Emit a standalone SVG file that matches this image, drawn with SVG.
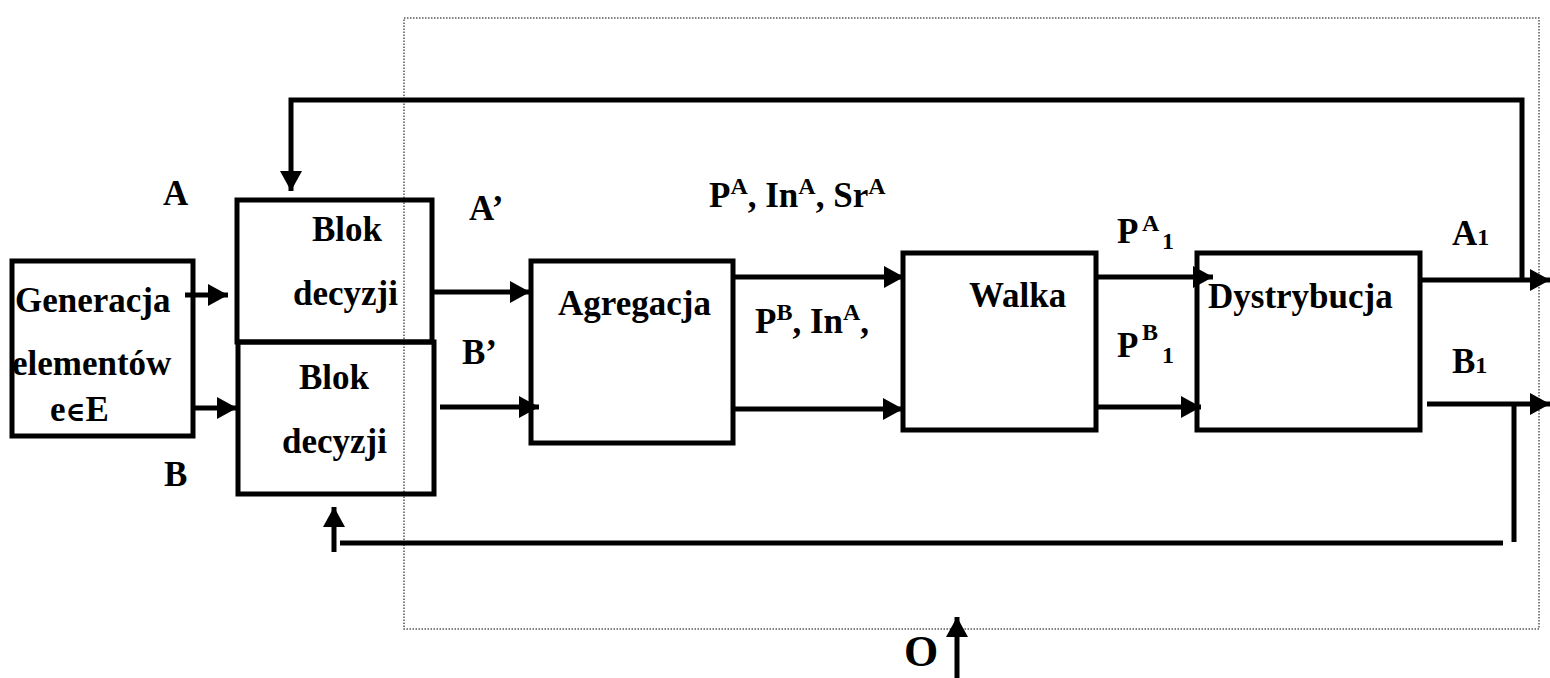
<svg xmlns="http://www.w3.org/2000/svg" width="1550" height="678" viewBox="0 0 1550 678">
<defs>
<style>
.box{fill:none;stroke:#000;stroke-width:5}
.ln{fill:none;stroke:#000;stroke-width:5}
.t{font-family:"Liberation Serif","Times New Roman",serif;font-weight:bold;font-size:35px;fill:#000}
.s{font-size:24px}
.frame{fill:none;stroke:#555;stroke-width:1.5;stroke-dasharray:1.5 1.5}
</style>
<marker id="ah" markerUnits="userSpaceOnUse" markerWidth="20" markerHeight="22" refX="20" refY="11" orient="auto">
<path d="M0,0 L20,11 L0,22 z" fill="#000"/>
</marker>
</defs>
<rect width="1550" height="678" fill="#fff"/>
<rect class="frame" x="404" y="18" width="1135" height="611"/>

<g id="generacja">
<rect class="box" x="12" y="261" width="181" height="175"/>
<text class="t" x="15" y="312">Generacja</text>
<text class="t" x="12" y="375">elementów</text>
<text class="t" x="50" y="421">e<tspan style="font-size:27px;font-family:'DejaVu Serif',serif">∈</tspan>E</text>
</g>
<g id="blok-a">
<rect class="box" x="237" y="200" width="195" height="142"/>
<text class="t" x="312" y="241">Blok</text>
<text class="t" x="293" y="305">decyzji</text>
</g>
<g id="blok-b">
<rect class="box" x="238" y="342" width="196" height="152"/>
<text class="t" x="299" y="389">Blok</text>
<text class="t" x="282" y="453">decyzji</text>
</g>
<g id="agregacja">
<rect class="box" x="531" y="261" width="202" height="182"/>
<text class="t" x="558" y="315">Agregacja</text>
</g>
<g id="walka">
<rect class="box" x="903" y="253" width="193" height="177"/>
<text class="t" x="969" y="307">Walka</text>
</g>
<g id="dystrybucja">
<rect class="box" x="1197" y="253" width="223" height="177"/>
<text class="t" x="1208" y="308">Dystrybucja</text>
</g>

<g id="connectors">
<path class="ln" d="M185,295 H228" marker-end="url(#ah)"/>
<path class="ln" d="M194,408 H237" marker-end="url(#ah)"/>
<path class="ln" d="M432,292 H530" marker-end="url(#ah)"/>
<path class="ln" d="M440,407 H539" marker-end="url(#ah)"/>
<path class="ln" d="M733,277 H904" marker-end="url(#ah)"/>
<path class="ln" d="M733,409 H903" marker-end="url(#ah)"/>
<path class="ln" d="M1096,277 H1213" marker-end="url(#ah)"/>
<path class="ln" d="M1096,407 H1201" marker-end="url(#ah)"/>
<path class="ln" d="M1420,280 H1550" marker-end="url(#ah)"/>
<path class="ln" d="M1427,404 H1550" marker-end="url(#ah)"/>
<path class="ln" d="M1522,280 V100 H291 V191" stroke-width="6" marker-end="url(#ah)"/>
<path class="ln" d="M1514,404 V542"/>
<path class="ln" d="M1503,543 H340"/>
<path class="ln" d="M334,552 V507" marker-end="url(#ah)"/>
<path class="ln" d="M957,678 V617" marker-end="url(#ah)"/>
</g>

<g id="labels">
<text class="t" x="163" y="205">A</text>
<text class="t" x="164" y="486">B</text>
<text class="t" x="469" y="220">A’</text>
<text class="t" x="462" y="364">B’</text>
<text class="t" x="709" y="207">P<tspan class="s" dy="-13">A</tspan><tspan dy="13">, In</tspan><tspan class="s" dy="-13">A</tspan><tspan dy="13">, Sr</tspan><tspan class="s" dy="-13">A</tspan></text>
<text class="t" x="755" y="333">P<tspan class="s" dy="-13">B</tspan><tspan dy="13">, In</tspan><tspan class="s" dy="-13">A</tspan><tspan dy="13">,</tspan></text>
<text class="t" x="1117" y="243">P<tspan class="s" x="1142" y="231">A</tspan><tspan class="s" x="1162" y="249">1</tspan></text>
<text class="t" x="1117" y="357">P<tspan class="s" x="1142" y="340">B</tspan><tspan class="s" x="1162" y="363">1</tspan></text>
<text class="t" x="1452" y="245">A<tspan class="s">1</tspan></text>
<text class="t" x="1452" y="373">B<tspan class="s">1</tspan></text>
<text class="t" x="904" y="666" style="font-size:44px">O</text>
</g>
</svg>
